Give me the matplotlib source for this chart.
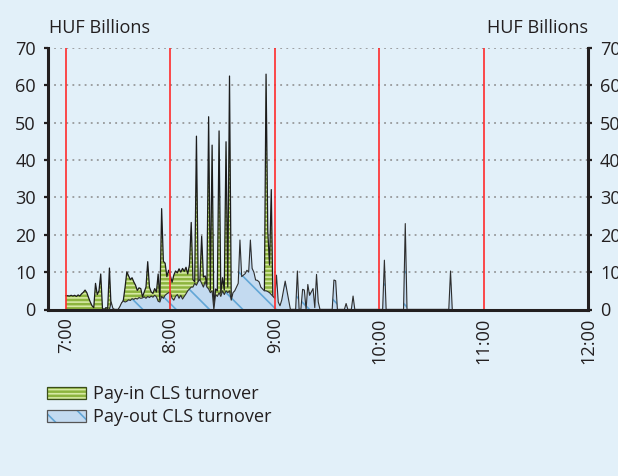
import numpy as np
import matplotlib
matplotlib.use('Agg')
import matplotlib.pyplot as plt
from matplotlib.patches import Patch

plt.rcParams['font.family'] = ['Open Sans', 'DejaVu Sans']
plt.rcParams['hatch.linewidth'] = 1.2

# one value per minute starting at 7:00 (HUF billions)
pay_in = [
    # 7:00-7:59
    3.7, 3.7, 3.6, 3.8, 3.6, 3.8, 3.5, 3.9, 3.6, 4.2,
    4.6, 5.2, 4.5, 3.2, 2.0, 1.0, 0.5, 7.0, 4.0, 5.0,
    9.5, 0.3, 0.0, 0.5, 0.3, 11.1, 0.0, 0.0, 0.0, 0.0,
    0.0, 0.5, 1.5, 2.5, 6.0, 10.1, 9.0, 8.0, 8.5, 7.4,
    6.5, 5.1, 5.8, 5.6, 3.4, 4.7, 6.0, 12.8, 6.0, 4.7,
    4.3, 5.6, 4.7, 9.5, 2.5, 27.0, 12.9, 12.4, 8.8, 10.5,
    # 8:00-8:59
    9.0, 7.3, 9.2, 10.3, 9.8, 10.9, 10.0, 11.0, 10.2, 11.3,
    9.5, 12.0, 23.3, 8.0, 7.4, 46.4, 7.4, 8.0, 19.6, 8.7,
    9.0, 6.5, 51.6, 5.2, 44.0, 0.0, 5.5, 5.0, 47.8, 4.3,
    8.5, 5.2, 44.9, 6.0, 62.5, 2.5, 4.0, 4.5, 5.0, 6.0,
    6.5, 7.0, 8.0, 8.5, 9.0, 9.0, 9.5, 9.5, 8.5, 7.0,
    6.5, 6.0, 4.5, 0.0, 1.5, 63.0, 20.8, 11.9, 32.1, 0.0,
    # 9:00-9:59
    0.0, 0.0, 0.0, 0.0, 0.0, 0.0, 0.0, 0.0, 0.0, 0.0,
    0.0, 0.0, 0.0, 0.0, 0.0, 0.0, 0.0, 0.0, 0.0, 0.0,
    4.5, 3.0, 0.0, 0.0, 0.0, 0.0, 0.0, 0.0, 0.0, 0.0,
    0.0, 0.0, 0.0, 0.0, 0.0, 0.0, 0.0, 0.0, 0.0, 0.0,
    0.0, 0.0, 0.0, 0.0, 0.0, 0.0, 0.0, 0.0, 0.0, 0.0,
    0.0, 0.0, 0.0, 0.0, 0.0, 0.0, 0.0, 0.0, 0.0, 0.0,
    # 10:00-10:42
    0.0, 0.0, 0.0, 0.0, 0.0, 0.0, 0.0, 0.0, 0.0, 0.0,
    0.0, 0.0, 0.0, 0.0, 0.0, 0.0, 0.0, 0.0, 0.0, 0.0,
    0.0, 0.0, 0.0, 0.0, 0.0, 0.0, 0.0, 0.0, 0.0, 0.0,
    0.0, 0.0, 0.0, 0.0, 0.0, 0.0, 0.0, 0.0, 0.0, 0.0,
    0.0, 0.0, 0.0,
]

pay_out = [
    # 7:00-7:59
    0.0, 0.0, 0.0, 0.0, 0.0, 0.0, 0.0, 0.0, 0.0, 0.0,
    0.0, 0.0, 0.0, 0.0, 0.0, 0.0, 0.0, 0.0, 0.0, 0.0,
    0.0, 0.0, 0.0, 0.0, 0.0, 0.0, 2.0, 0.3, 0.0, 0.0,
    0.0, 0.8, 1.8, 2.3, 2.0, 2.2, 2.6, 2.4, 2.9, 2.7,
    3.0, 2.8, 3.2, 3.0, 3.1, 3.4, 3.0, 3.5, 3.2, 3.6,
    3.3, 3.8, 3.4, 2.2, 2.0, 3.5, 3.0, 3.8, 4.2, 4.5,
    # 8:00-8:59
    4.5, 3.0, 2.5, 3.5, 4.0, 3.0, 3.8, 2.8, 3.5, 4.2,
    5.0, 5.5, 6.0, 6.0, 7.0, 6.5, 7.5, 8.0, 7.0, 6.0,
    7.5, 6.0, 5.5, 4.5, 5.0, 0.0, 4.0, 3.5, 4.5, 3.5,
    5.0, 4.0, 5.0, 4.5, 5.0, 2.5, 4.5, 5.0, 6.0, 7.0,
    18.6, 8.8, 9.2, 9.6, 10.5, 10.0, 18.6, 11.0, 10.0, 7.9,
    7.8, 7.4, 6.0, 5.5, 5.0, 5.0, 4.8, 4.5, 4.0, 3.5,
    # 9:00-9:59
    3.0, 9.2, 2.0, 1.0, 2.5, 5.0, 7.6, 5.0, 2.5, 0.0,
    0.0, 0.0, 0.0, 10.3, 0.0, 0.0, 5.4, 5.2, 0.0, 6.7,
    3.8, 4.7, 5.6, 0.5, 9.4, 2.0, 0.0, 0.0, 0.0, 0.0,
    0.0, 0.0, 0.0, 0.0, 7.9, 7.7, 0.0, 0.0, 0.0, 0.0,
    0.0, 1.6, 0.0, 0.0, 0.0, 3.6, 0.0, 0.0, 0.0, 0.0,
    0.0, 0.0, 0.0, 0.0, 0.0, 0.0, 0.0, 0.0, 0.0, 0.0,
    # 10:00-10:42
    0.0, 0.0, 0.0, 13.2, 0.0, 0.0, 0.0, 0.0, 0.0, 0.0,
    0.0, 0.0, 0.0, 0.0, 0.0, 23.0, 0.0, 0.0, 0.0, 0.0,
    0.0, 0.0, 0.0, 0.0, 0.0, 0.0, 0.0, 0.0, 0.0, 0.0,
    0.0, 0.0, 0.0, 0.0, 0.0, 0.0, 0.0, 0.0, 0.0, 0.0,
    0.0, 10.3, 0.0,
]

hour_labels = ['7:00', '8:00', '9:00', '10:00', '11:00', '12:00']
y_ticks = [0, 10, 20, 30, 40, 50, 60, 70]
series_labels = ['Pay-in CLS turnover', 'Pay-out CLS turnover']

BG = '#e2f0f9'
GREEN = '#8db43e'
GREEN_HATCH = '#d6e9a4'
BLUE = '#c3daf0'
BLUE_HATCH = '#62a6d6'
DARK = '#231f20'
FS = 13.1

minutes = np.arange(len(pay_in))
hour_pos = np.arange(len(hour_labels)) * 60

fig = plt.figure(figsize=(6.18, 4.76), dpi=100, facecolor=BG)
ax = fig.add_axes([48 / 618, 1 - 309.5 / 476, 540 / 618, 261.5 / 476])
ax.set_facecolor(BG)
ax.set_xlim(-10.3, 300)
ax.set_ylim(0, 70)

for y in y_ticks[1:]:
    ax.axhline(y, color='#8a8a8a', lw=1.1, ls=(0, (1.2, 2.8)), zorder=1)

ax.fill_between(minutes, 0, pay_in, facecolor=GREEN, edgecolor=GREEN_HATCH,
                hatch='----', linewidth=0, zorder=2)
ax.plot(minutes, pay_in, color='#1c1c1c', lw=0.9, zorder=2.1)
ax.fill_between(minutes, 0, pay_out, facecolor=BLUE, edgecolor=BLUE_HATCH,
                hatch='\\', linewidth=0, zorder=2.2)
ax.plot(minutes, pay_out, color='#2e2e2e', lw=0.8, zorder=2.3)

for h in hour_pos[:-1]:
    ax.axvline(h, color='#ff2b2b', lw=1.2, zorder=2.4)

for s in ['left', 'right', 'bottom']:
    ax.spines[s].set_linewidth(2.2)
    ax.spines[s].set_color(DARK)
ax.spines['top'].set_visible(False)
ax.spines['right'].set_visible(False)

ax.set_yticks(y_ticks)
ax.set_yticklabels([str(v) for v in y_ticks])
ax.tick_params(axis='y', direction='out', length=3.2, width=1.6, pad=5.5,
               labelsize=FS, colors=DARK)
ax.set_xticks(hour_pos)
ax.set_xticklabels(hour_labels, rotation=90)
ax.tick_params(axis='x', length=0, pad=5.5, labelsize=FS, colors=DARK)

ax2 = ax.twinx()
ax2.set_ylim(0, 70)
ax2.set_yticks(y_ticks)
ax2.set_yticklabels([str(v) for v in y_ticks])
ax2.tick_params(axis='y', direction='out', length=3.2, width=1.6, pad=5.5,
                labelsize=FS, colors=DARK)
for s in ['left', 'top', 'bottom']:
    ax2.spines[s].set_visible(False)
ax2.spines['right'].set_linewidth(2.2)
ax2.spines['right'].set_color(DARK)
ax2.patch.set_visible(False)

fig.text(49 / 618, 1 - 33 / 476, 'HUF Billions', ha='left', va='baseline',
         fontsize=FS, color=DARK)
fig.text(588 / 618, 1 - 33 / 476, 'HUF Billions', ha='right', va='baseline',
         fontsize=FS, color=DARK)

h_in = (Patch(facecolor=GREEN, edgecolor=GREEN_HATCH, hatch='----', linewidth=0),
        Patch(facecolor='none', edgecolor='#3a4d1a', linewidth=0.9))
h_out = (Patch(facecolor=BLUE, edgecolor=BLUE_HATCH, hatch='\\', linewidth=0),
         Patch(facecolor='none', edgecolor='#555555', linewidth=0.9))
fig.legend([h_in, h_out], series_labels, loc='upper left',
           bbox_to_anchor=(47 / 618, 1 - 385 / 476), frameon=False,
           borderpad=0, borderaxespad=0, handlelength=2.15, handleheight=0.65,
           handletextpad=0.4, labelspacing=0.3, fontsize=FS,
           labelcolor=DARK)

fig.savefig('out.png', dpi=100, facecolor=BG)
